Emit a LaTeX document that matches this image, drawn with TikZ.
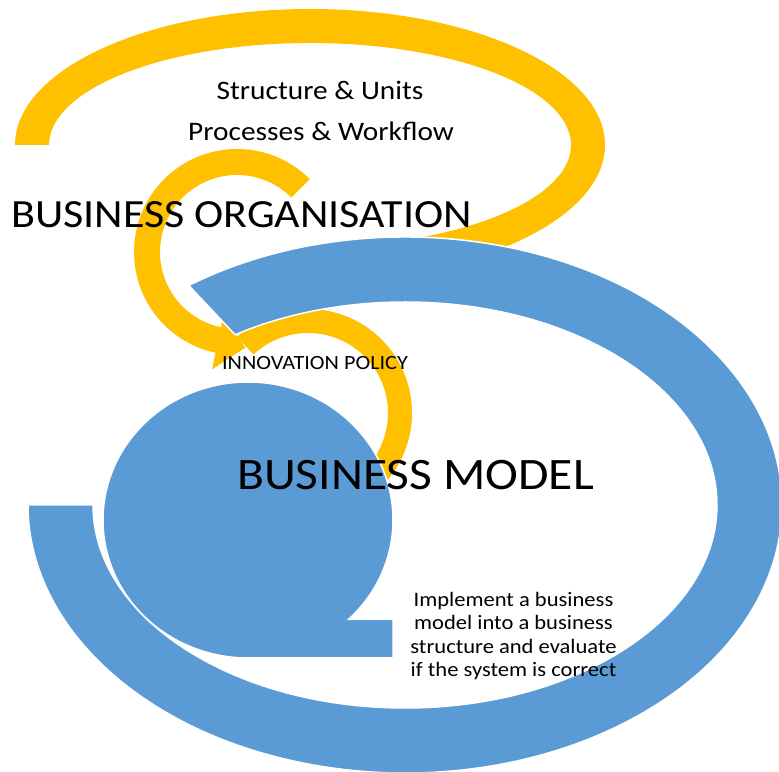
\documentclass[tikz,border=0pt]{standalone}
\usepackage{fontspec}
\setmainfont[FakeStretch=1.1]{Carlito}
\usepackage{xcolor}
\usepackage{tikz}
\usetikzlibrary{calc}
\definecolor{OrgYellow}{RGB}{255,192,0}
\definecolor{ModelBlue}{RGB}{91,155,213}
\tikzset{
orgband/.style={fill=OrgYellow},
modelband/.style={fill=ModelBlue,draw=white,line width=1.5pt},
heading/.style={inner sep=0pt,font=\fontsize{40}{48}\selectfont},
bigheading/.style={inner sep=0pt,font=\fontsize{45}{54}\selectfont},
subtitle/.style={inner sep=0pt,font=\fontsize{26.7}{30}\selectfont},
policytext/.style={inner sep=0pt,font=\fontsize{20.2}{24}\selectfont},
notetext/.style={inner sep=0pt,align=center,font=\fontsize{20.5}{23.3}\selectfont}
}

\begin{document}
\begin{tikzpicture}[x=1pt,y=1pt]
\useasboundingbox (0,0) rectangle (779,771);
% organisation loop (yellow, behind the ring)
\coordinate (orgc) at (310,626);
\fill[orgband] ($(orgc)+(180:295 and 136)$) arc[start angle=180,end angle=-80,x radius=295,y radius=136]
  -- ($(orgc)+(-80:261 and 102)$) arc[start angle=-80,end angle=180,x radius=261,y radius=102] -- cycle;
% small circular arrow
\coordinate (loopc) at (237,519);
\fill[orgband] ($(loopc)+(45:103)$) arc[start angle=45,end angle=258,radius=103]
  -- ($(loopc)+(258:120)$) -- ($(loopc)+(275:96)$) -- ($(loopc)+(258:67)$)
  -- ($(loopc)+(258:77)$) arc[start angle=258,end angle=45,radius=77] -- cycle;
% policy arc
\coordinate (policyc) at (308,358);
\fill[orgband] ($(policyc)+(133:104)$) arc[start angle=133,end angle=-45,radius=104]
  -- ($(policyc)+(-45:80)$) arc[start angle=-45,end angle=133,radius=80] -- cycle;
% business model ring
\coordinate (ringc) at (405,266);
\fill[modelband] ($(ringc)+(125:377 and 268)$) arc[start angle=125,end angle=-180,x radius=377,y radius=268]
  -- ++(65,0) arc[start angle=-180,end angle=123,x radius=312,y radius=203] -- cycle;
% core disc with tail
\coordinate (corec) at (248,251);
\fill[modelband] ($(corec)+(-46:145 and 138)$) arc[start angle=-46,end angle=270,x radius=145,y radius=138]
  -- (393,113) -- (393,152) -- cycle;
% labels
\node[subtitle,anchor=base] (units) at (320,671) {Structure \& Units};
\node[subtitle,anchor=base] (flow) at (321,630) {Processes \& Workflow};
\node[heading,anchor=base west] (org) at (11,543) {BUSINESS ORGANISATION};
\node[policytext,anchor=base] (policy) at (315,401) {INNOVATION POLICY};
\node[bigheading,anchor=base west] (model) at (237,281) {BUSINESS MODEL};
\node[notetext] (task) at (513.5,135) {Implement a business\\model into a business\\structure and evaluate\\if the system is correct};
\end{tikzpicture}
\end{document}
